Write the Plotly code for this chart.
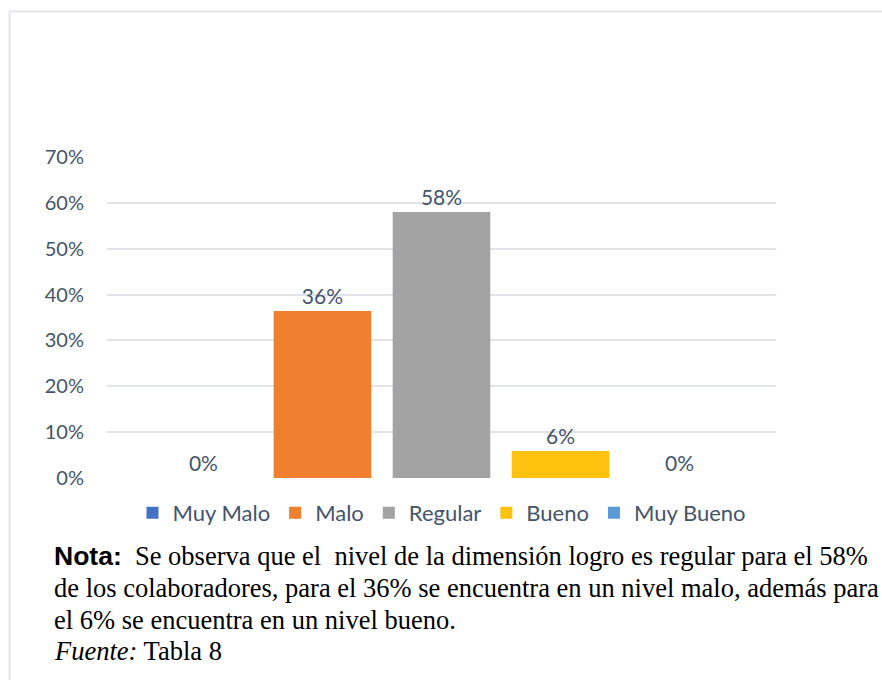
import plotly.graph_objects as go

categories = ["Muy Malo", "Malo", "Regular", "Bueno", "Muy Bueno"]
values = [0.0, 0.364, 0.58, 0.059, 0.0]
colors = ["#4472C4", "#F0802F", "#A3A3A3", "#FFC20E", "#5B9BD5"]
y_ticks = [0, 0.1, 0.2, 0.3, 0.4, 0.5, 0.6, 0.7]

note_lines = [
    '<span style="font-family:Liberation Sans"><b>Nota:</b></span>  Se observa que el  nivel de la dimensión logro es regular para el 58%',
    "de los colaboradores, para el 36% se encuentra en un nivel malo, además para",
    "el 6% se encuentra en un nivel bueno.",
    "<i>Fuente:</i> Tabla 8",
]

W, H = 882, 680
L, R, T, B = 107, 776, 157, 478  # plot area in pixels
pw, ph = R - L, B - T

def px(x):
    return (x - L) / pw

def py(y):
    return (B - y) / ph

TEXT = "#44546A"

fig = go.Figure()
for i, (c, v, col) in enumerate(zip(categories, values, colors)):
    fig.add_trace(go.Bar(
        name=c, x=[i], y=[v], width=0.82,
        marker=dict(color=col, line=dict(width=0)),
        text=[f"{v:.0%}"], textposition="outside",
        textfont=dict(family="Lato", size=21, color=TEXT),
        cliponaxis=False,
    ))

annotations = []
line_y = [556, 588, 620, 651]
for txt, yy in zip(note_lines, line_y):
    annotations.append(dict(
        xref="paper", yref="paper", x=px(52), y=py(yy),
        xanchor="left", yanchor="middle", showarrow=False, text=txt,
        font=dict(family="Liberation Serif", size=26.5, color="#000000"),
    ))

shapes = [
    dict(type="line", xref="paper", yref="paper", x0=px(9.5), x1=px(9.5), y0=py(11), y1=py(690),
         line=dict(color="#E1E4E9", width=2)),
    dict(type="line", xref="paper", yref="paper", x0=px(9.5), x1=px(890), y0=py(11.5), y1=py(11.5),
         line=dict(color="#E1E4E9", width=2)),
]

fig.update_layout(
    width=W, height=H,
    margin=dict(l=L, r=W - R, t=T, b=H - B, pad=0),
    paper_bgcolor="white", plot_bgcolor="white",
    barmode="group",
    font=dict(family="Lato", size=20, color=TEXT),
    showlegend=True,
    legend=dict(orientation="h", x=px(442), xanchor="center", y=py(513), yanchor="middle",
                font=dict(family="Lato", size=22, color=TEXT), itemwidth=30,
                traceorder="normal", bgcolor="rgba(0,0,0,0)"),
    xaxis=dict(range=[-0.81, 4.81], showticklabels=False, showgrid=False, zeroline=False,
               showline=False, ticks=""),
    yaxis=dict(range=[0, 0.7], tickvals=y_ticks, tickformat=".0%", showgrid=True,
               gridcolor="#E1E5EA", gridwidth=2, zeroline=False, showline=False,
               ticks="", ticklabelstandoff=22,
               tickfont=dict(family="Lato", size=20, color=TEXT)),
    annotations=annotations,
    shapes=shapes,
)

fig.write_html(
    "out.html",
    config={"displayModeBar": False},
    post_script="document.body.style.margin='0';document.body.style.padding='0';document.body.style.overflow='hidden';",
)
